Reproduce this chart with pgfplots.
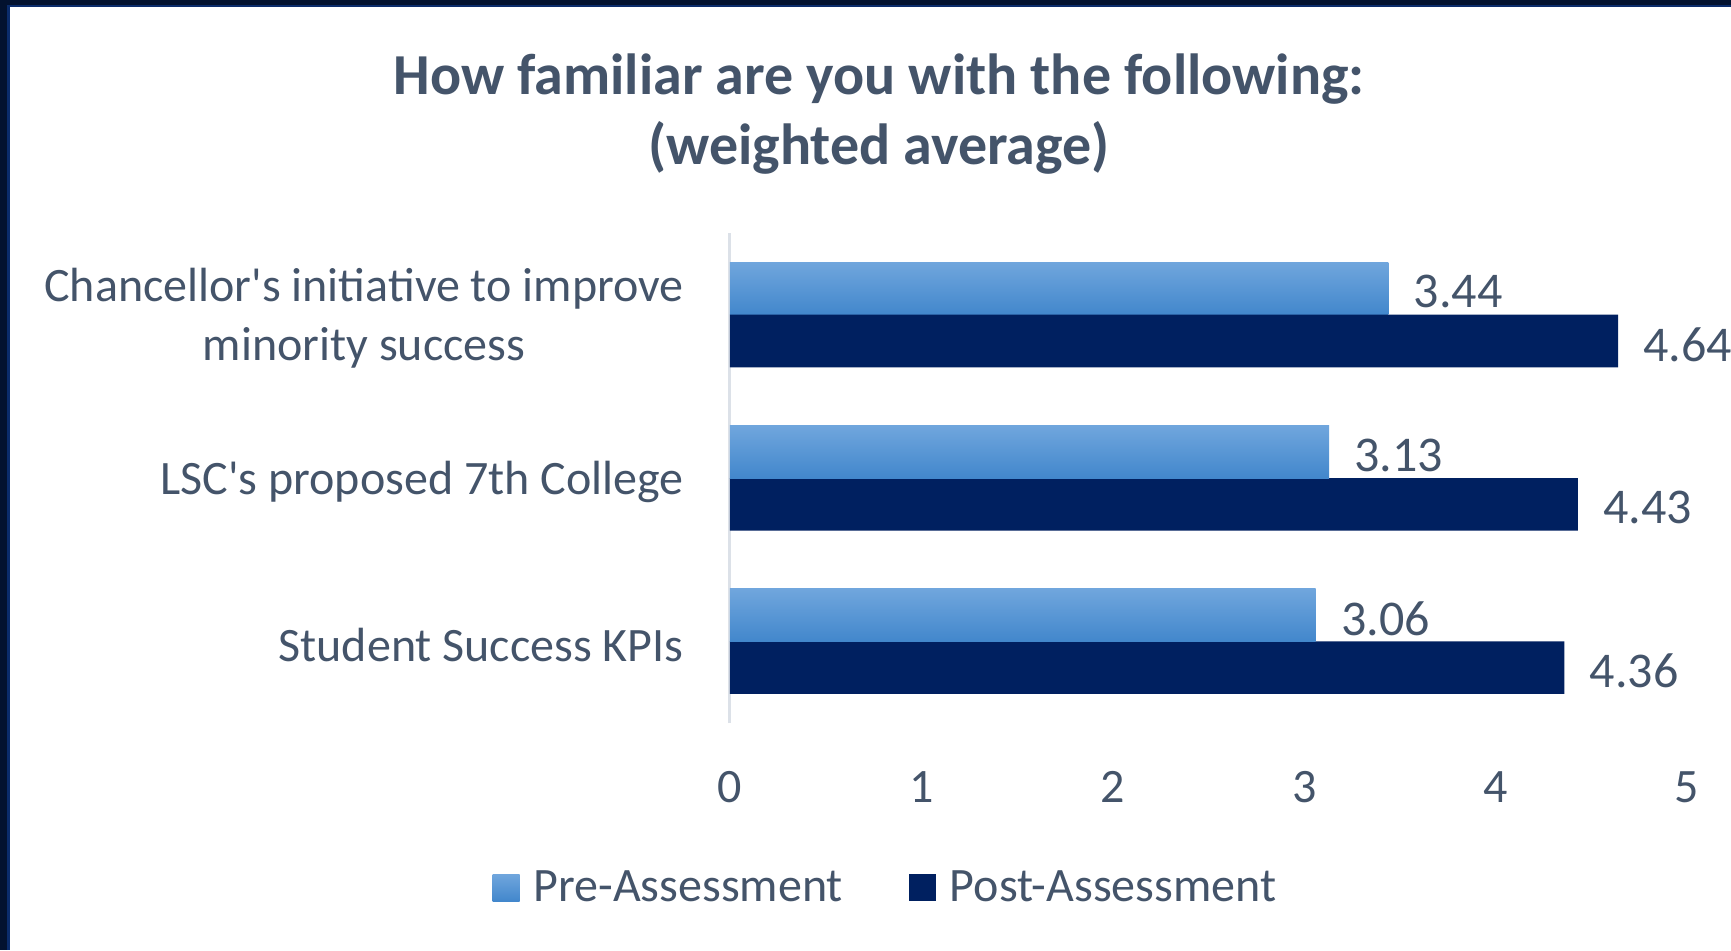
\documentclass[border=0pt]{standalone}
\usepackage{fontspec}
\setmainfont{Carlito}
\usepackage{pgfplots}
\pgfplotsset{compat=1.18}
\definecolor{txt}{HTML}{44546A}
\definecolor{postc}{HTML}{002060}
\definecolor{pretop}{RGB}{112,166,221}
\definecolor{prebot}{RGB}{66,135,204}
\definecolor{framec}{HTML}{03122F}
\definecolor{framein}{HTML}{0B2C6B}
\definecolor{axline}{HTML}{DCE1E8}
\begin{document}
\begin{tikzpicture}[x=1pt,y=1pt]
\path[use as bounding box, fill=white] (0pt,0pt) rectangle (865.5pt,475pt);
\fill[framec] (0pt,0pt) rectangle (5pt,475pt);
\fill[framein] (3.5pt,0pt) rectangle (5pt,472pt);
\fill[framec] (0pt,472pt) rectangle (865.5pt,475pt);
\fill[framein] (3.5pt,471.5pt) rectangle (865.5pt,472.5pt);
\node[anchor=base, font=\bfseries\fontsize{29}{35}\selectfont, text=txt] at (439.5pt,427.8pt) {How familiar are you with the following:};
\node[anchor=base, font=\bfseries\fontsize{29}{35}\selectfont, text=txt] at (439.5pt,392.6pt) {(weighted average)};
\begin{axis}[
  at={(365pt,113.5pt)}, anchor=south west,
  scale only axis, width=478.5pt, height=245pt,
  xmin=0, xmax=5, ymin=-0.5, ymax=2.5,
  xbar, bar width=26.3pt,
  axis lines*=left,
  x axis line style={draw=none},
  y axis line style={draw=axline, line width=1.5pt},
  major tick length=0pt,
  xtick={0,1,2,3,4,5},
  ytick={0,1,2},
  yticklabels={Student Success KPIs, LSC\textquotesingle s proposed 7th College, {Chancellor\textquotesingle s initiative to improve\\minority success}},
  xticklabel style={anchor=base, yshift=-39.5pt, font=\fontsize{24}{29}\selectfont, text=txt},
  yticklabel style={anchor=east, align=center, inner sep=0pt, xshift=-23pt, yshift=-1.8pt, font=\fontsize{24}{29.8}\selectfont, text=txt},
  /pgf/number format/assume math mode=true,
  nodes near coords={\pgfmathprintnumber[fixed,fixed zerofill,precision=2,assume math mode=true]{\pgfplotspointmeta}},
  every node near coord/.append style={anchor=west, inner sep=0pt, xshift=12.5pt, yshift=-1.8pt, font=\fontsize{25}{30}\selectfont, text=txt},
  legend style={draw=none, fill=none, legend columns=2, at={(0.1635,-0.336)}, anchor=center, font=\fontsize{24}{29}\selectfont, text=txt,
    /tikz/every odd column/.append style={column sep=5pt},
    /tikz/every even column/.append style={column sep=31pt}},
  legend image code/.code={\path[#1, draw=none] (0pt,-6.75pt) rectangle (13.5pt,6.75pt);},
  clip=false,
]
\addplot[draw=none, top color=pretop, bottom color=prebot, bar shift=13.15pt] coordinates {(3.44,2)};
\addlegendentry{Pre-Assessment}
\addplot[draw=none, fill=postc, bar shift=-13.15pt] coordinates {(4.36,0) (4.43,1) (4.64,2)};
\addlegendentry{Post-Assessment}
\addplot[forget plot, draw=none, top color=pretop, bottom color=prebot, bar shift=13.15pt] coordinates {(3.13,1)};
\addplot[forget plot, draw=none, top color=pretop, bottom color=prebot, bar shift=13.15pt] coordinates {(3.06,0)};
\end{axis}
\end{tikzpicture}
\end{document}
